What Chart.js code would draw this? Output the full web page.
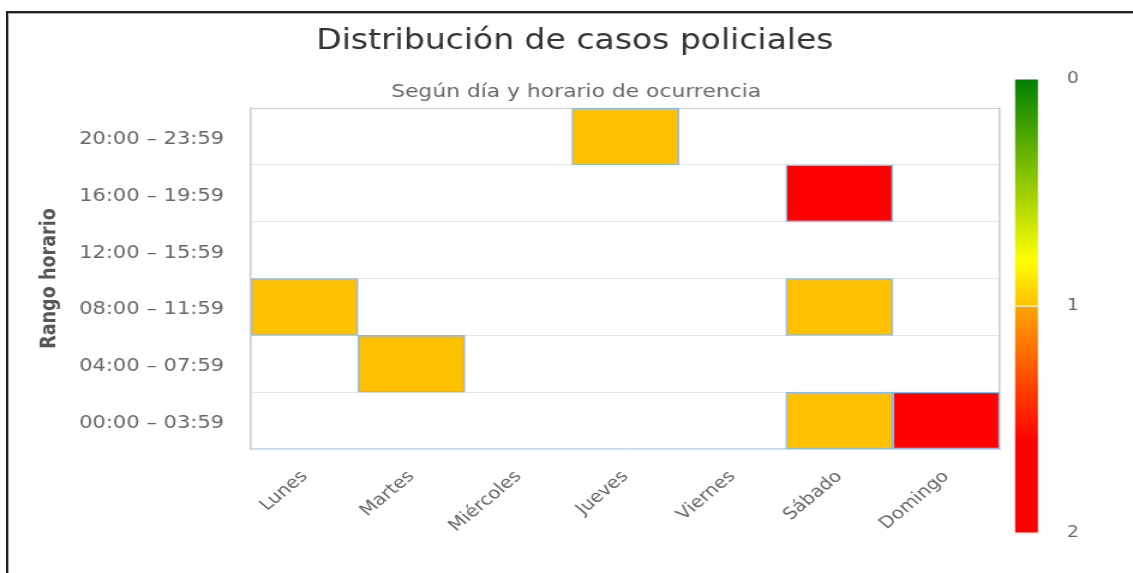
<!DOCTYPE html>
<html>
<head>
<meta charset="utf-8">
<script src="https://cdn.jsdelivr.net/npm/chart.js@4/dist/chart.umd.min.js"></script>
<style>
  html, body { margin: 0; padding: 0; background: #fff; overflow: hidden; }
  #wrap { position: relative; width: 1133px; height: 573px; overflow: hidden; }
  #stretch { position: absolute; left: 0; top: 0; width: 944px; height: 573px;
             transform: scaleX(1.2002); transform-origin: 0 0; }
  #frame { position: absolute; left: 6px; top: 11px; right: -4px; bottom: -4px;
           border-top: 2px solid #222; border-left: 2px solid #222;
           box-shadow: inset 1px 1px 0 #aaa; pointer-events: none; }
</style>
</head>
<body>
<div id="wrap">
  <div id="stretch"><canvas id="c" width="944" height="573"></canvas></div>
  <div id="frame"></div>
</div>
<script>
// ---- Data ----
const days = ['Lunes', 'Martes', 'Miércoles', 'Jueves', 'Viernes', 'Sábado', 'Domingo'];
const timeRanges = ['00:00 – 03:59', '04:00 – 07:59', '08:00 – 11:59', '12:00 – 15:59', '16:00 – 19:59', '20:00 – 23:59'];
// number of cases per time range (rows, bottom to top), one entry per day; null = empty cell
const row0000 = [null, null, null, null, null, 1, 2];
const row0400 = [null, 1, null, null, null, null, null];
const row0800 = [1, null, null, null, null, 1, null];
const row1200 = [null, null, null, null, null, null, null];
const row1600 = [null, null, null, null, null, 2, null];
const row2000 = [null, null, null, 1, null, null, null];
const rows = [row0000, row0400, row0800, row1200, row1600, row2000];
const colorTicks = [0, 1, 2];
const titleText = 'Distribución de casos policiales';
const subtitleText = 'Según día y horario de ocurrencia';

const valueColor = v => (v >= 2 ? '#FF0000' : v >= 1 ? '#FFC000' : '#008000');

const datasets = rows.map((vals, r) => ({
  label: timeRanges[r],
  data: vals.map(v => (v === null ? null : [r, r + 1])),
  backgroundColor: vals.map(v => (v === null ? 'rgba(0,0,0,0)' : valueColor(v))),
  borderColor: '#8cbbe8',
  borderWidth: 1.5,
  borderSkipped: false,
  barPercentage: 1,
  categoryPercentage: 1,
  grouped: false,
  yAxisID: 'y'
}));

const headerPlugin = {
  id: 'header',
  afterDraw(chart) {
    const ctx = chart.ctx;
    ctx.save();
    ctx.textAlign = 'center';
    ctx.textBaseline = 'alphabetic';
    ctx.fillStyle = '#333';
    ctx.font = '27.5px "DejaVu Sans"';
    ctx.fillText(titleText, 479, 49);
    ctx.fillStyle = '#666';
    ctx.font = '18.2px "DejaVu Sans"';
    ctx.fillText(subtitleText, 480, 97);
    ctx.restore();
  }
};

const colorBarPlugin = {
  id: 'colorBar',
  afterDraw(chart) {
    const ctx = chart.ctx;
    const x = 845.8, w = 19, top = 79.5, bottom = 532.5;
    const g = ctx.createLinearGradient(0, top, 0, bottom);
    g.addColorStop(0, '#008000');
    g.addColorStop(0.4, '#FFFF00');
    g.addColorStop(0.5, '#FFC000');
    g.addColorStop(0.5, '#FFA500');
    g.addColorStop(0.8, '#FF0000');
    g.addColorStop(1, '#FF0000');
    ctx.save();
    ctx.fillStyle = g;
    ctx.fillRect(x, top, w, bottom - top);
    const minV = colorTicks[0], maxV = colorTicks[colorTicks.length - 1];
    ctx.font = '15.5px "DejaVu Sans"';
    ctx.fillStyle = '#666';
    ctx.textAlign = 'left';
    ctx.textBaseline = 'middle';
    colorTicks.forEach(t => {
      const y = top + (t - minV) / (maxV - minV) * (bottom - top);
      if (t > minV && t < maxV) {
        ctx.strokeStyle = '#f0f0f0';
        ctx.lineWidth = 1.5;
        ctx.beginPath();
        ctx.moveTo(x, y);
        ctx.lineTo(x + w, y);
        ctx.stroke();
      }
      ctx.fillText(String(t), 889, t === minV ? y - 1 : y);
    });
    ctx.restore();
  }
};

new Chart(document.getElementById('c'), {
  type: 'bar',
  data: { labels: days, datasets },
  options: {
    responsive: false,
    animation: false,
    layout: { padding: { left: 0, right: 111, top: 108, bottom: 0 } },
    plugins: {
      legend: { display: false },
      tooltip: { enabled: false },
      title: { display: false },
      subtitle: { display: false }
    },
    scales: {
      x: {
        grid: { display: false, drawTicks: false },
        border: { display: true, color: '#ccd6eb', width: 1.5 },
        afterFit(scale) { scale.height = 124; },
        ticks: {
          color: '#666',
          font: { family: 'DejaVu Sans', size: 16.5 },
          maxRotation: 45, minRotation: 45,
          autoSkip: false,
          padding: 18,
          labelOffset: 0
        }
      },
      y: {
        type: 'linear',
        min: 0, max: 6,
        position: 'left',
        grid: { display: false, drawTicks: false },
        border: { display: true, color: '#ccc', width: 1.5 },
        afterFit(scale) { scale.width = 209.2; },
        afterBuildTicks(scale) {
          scale.ticks = timeRanges.map((_, i) => ({ value: i + 0.5 }));
        },
        ticks: {
          color: '#666',
          font: { family: 'DejaVu Sans', size: 17.5 },
          padding: 22.5,
          labelOffset: 3,
          callback: (v) => timeRanges[Math.floor(v)]
        },
        title: {
          display: true,
          text: 'Rango horario',
          color: '#555',
          font: { family: 'DejaVu Sans', size: 17.6, weight: 'bold' },
          padding: { top: 31, bottom: 0 }
        }
      },
      yGrid: {
        type: 'linear',
        min: 0, max: 6,
        position: 'right',
        afterFit(scale) { scale.width = 0; },
        grid: {
          display: true, drawTicks: false,
          color: (c) => (c.tick && c.tick.value === 6 ? '#ccc' : '#e6e6e6'),
          lineWidth: 1
        },
        border: { display: true, color: '#ccc', width: 1.5 },
        ticks: { display: false, stepSize: 1 }
      }
    }
  },
  plugins: [headerPlugin, colorBarPlugin]
});
</script>
</body>
</html>
